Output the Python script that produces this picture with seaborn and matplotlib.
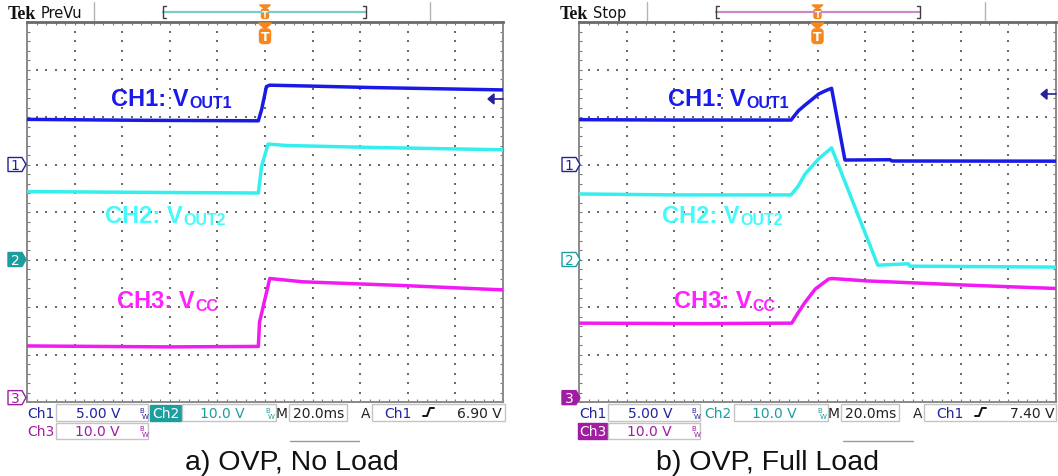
import numpy as np
import pandas as pd
import matplotlib
matplotlib.use("Agg")
import matplotlib.pyplot as plt
import seaborn as sns
from matplotlib.patches import Polygon, Rectangle, FancyBboxPatch
from matplotlib.ticker import MultipleLocator

# ------------------------------------------------------------------ data
# time in ms relative to trigger (20 ms/div, 10 div); voltages in V
CH_SCALE = [5.0, 10.0, 10.0]      # V/div for CH1, CH2, CH3
CH_GROUND = [5.0, 3.0, 0.05]      # ground marker position (div from bottom)

# a) OVP, No Load
a_ch1_t = [-100, -50, -2.8, -1.4, 0.6, 2.0, 20, 45, 100]
a_ch1_v = [4.75, 4.65, 4.6, 5.8, 8.2, 8.35, 8.25, 8.1, 7.85]
a_ch2_t = [-100, -40, -2.8, -1.4, 1.3, 9, 44, 100]
a_ch2_v = [14.3, 14.1, 14.0, 19.7, 24.3, 24.0, 23.6, 23.1]
a_ch3_t = [-100, -40, -2.8, -2.3, 2.0, 16, 59, 100]
a_ch3_v = [11.3, 11.1, 11.2, 16.3, 25.5, 24.8, 24.0, 23.1]

# b) OVP, Full Load
b_ch1_t = [-100, -60, -11.1, -8.0, -5.2, 0.5, 3.4, 5.9, 11.5, 30.5, 31.2, 100]
b_ch1_v = [4.72, 4.68, 4.68, 5.66, 6.26, 7.42, 7.77, 8.02, 0.47, 0.5, 0.37, 0.35]
b_ch2_t = [-100, -60, -11.1, -8.0, -5.2, 0.5, 5.9, 25.3, 38.0, 38.8, 100]
b_ch2_v = [13.8, 13.6, 13.6, 15.5, 18.0, 21.2, 23.5, -1.2, -0.9, -1.4, -1.6]
b_ch3_t = [-100, -50, -10.8, -8.0, -5.2, -0.9, 4.7, 6.1, 20.3, 62.8, 100]
b_ch3_v = [16.1, 16.0, 16.1, 18.4, 20.5, 23.3, 25.4, 25.5, 25.0, 24.1, 23.4]

scale_labels = ["5.00 V", "10.0 V", "10.0 V"]
timebase_label = "20.0ms"
trig_levels_v = [6.90, 7.40]
trig_labels = ["6.90 V", "7.40 V"]
status_labels = ["PreVu", "Stop"]
captions = ["a) OVP, No Load", "b) OVP, Full Load"]
trace_names = [("CH1: V", "OUT1"), ("CH2: V", "OUT2"), ("CH3: V", "CC")]

# ------------------------------------------------------------------ style
sns.set_theme(style="white")
plt.rcParams["font.family"] = ["Liberation Sans", "DejaVu Sans"]

TR_COL = ["#1a1ae6", "#35eeee", "#f21af2"]
LBL_COL = ["#1a1aee", "#45fafa", "#ff22ff"]
NAVY, TEAL, PURP = "#22229a", "#1c9e9e", "#a01ca0"
ORANGE = "#f7861c"

W, H = 1058, 477
fig = plt.figure(figsize=(W / 100, H / 100), dpi=100)
fig.patch.set_facecolor("white")


def px_axes(x0, y0, x1, y1, **kw):
    return fig.add_axes([x0 / W, 1 - y1 / H, (x1 - x0) / W, (y1 - y0) / H], **kw)


panels = [
    dict(x0=27, x1=503, data=[(a_ch1_t, a_ch1_v), (a_ch2_t, a_ch2_v), (a_ch3_t, a_ch3_v)]),
    dict(x0=579, x1=1056, data=[(b_ch1_t, b_ch1_v), (b_ch2_t, b_ch2_v), (b_ch3_t, b_ch3_v)]),
]
Y0, Y1 = 23, 403

for p in panels:
    ax = px_axes(p["x0"], Y0, p["x1"], Y1)
    ax.set_facecolor("white")
    # dotted graticule
    gx = np.arange(-80, 81, 20)
    gy = np.arange(1, 8)
    fx = np.arange(-100, 100.01, 4)
    fy = np.arange(0, 8.001, 0.2)
    xs = np.concatenate([np.repeat(gx, len(fy)), np.tile(fx, len(gy))])
    ys = np.concatenate([np.tile(fy, len(gx)), np.repeat(gy, len(fx))])
    ax.scatter(xs, ys, s=1.3, c="#6a6a6a", marker="s", linewidths=0, zorder=1)
    for i, (t, v) in enumerate(p["data"]):
        df = pd.DataFrame({"t": t, "div": np.array(v) / CH_SCALE[i] + CH_GROUND[i]})
        sns.lineplot(data=df, x="t", y="div", ax=ax, color=TR_COL[i], lw=2.5,
                     estimator=None, sort=False, zorder=3)
    ax.set(xlim=(-100, 100), ylim=(0, 8), xlabel="", ylabel="")
    ax.xaxis.set_major_locator(MultipleLocator(20))
    ax.xaxis.set_minor_locator(MultipleLocator(4))
    ax.yaxis.set_major_locator(MultipleLocator(1))
    ax.yaxis.set_minor_locator(MultipleLocator(0.2))
    ax.tick_params(which="both", direction="in", top=True, right=True, bottom=True,
                   left=True, labelbottom=False, labelleft=False, color="#7a7a7a",
                   length=2.3, width=0.8)
    for s in ax.spines.values():
        s.set_color("#8a8a8a")
        s.set_linewidth(1.4)
    ax.spines["top"].set_color("#6a6a6a")
    ax.spines["top"].set_linewidth(2.0)

# ------------------------------------------------------------------ overlay
ov = px_axes(0, 0, W, H, zorder=10)
ov.set_xlim(0, W)
ov.set_ylim(H, 0)
ov.axis("off")
ov.patch.set_alpha(0)
renderer = fig.canvas.get_renderer()


def div_to_px(d):
    return Y1 - d * (Y1 - Y0) / 8


def chan_marker(x0, yc, num, color, filled):
    w, h = 14, 14
    pts = [(x0, yc - h / 2), (x0 + w, yc - h / 2), (x0 + w + 4, yc),
           (x0 + w, yc + h / 2), (x0, yc + h / 2)]
    ov.add_patch(Polygon(pts, closed=True, fc=color if filled else "white",
                         ec=color, lw=1))
    ov.text(x0 + w / 2, yc + 0.5, num, color="white" if filled else color,
            ha="center", va="center", fontsize=10, family="DejaVu Sans")


def trace_label(x, yb, main, sub, color, sub_drop):
    t = ov.text(x, yb, main, fontsize=17, fontweight="bold", color=color,
                va="baseline", ha="left")
    bb = t.get_window_extent(renderer=renderer)
    xe = ov.transData.inverted().transform((bb.x1, 0))[0]
    ov.text(xe + 1, yb + sub_drop, sub, fontsize=11.5, fontweight="bold",
            color=color, va="baseline", ha="left")


def box(x0, y0, x1, y1, fc="white", ec="#c4c4c4"):
    ov.add_patch(Rectangle((x0, y0), x1 - x0, y1 - y0, fc=fc, ec=ec, lw=1))


def rtext(x, y, s, color, ha="center", size=10):
    ov.text(x, y, s, color=color, ha=ha, va="baseline", fontsize=size,
            family="DejaVu Sans")


def bw(x, y, color):
    ov.text(x, y, "B", color=color, fontsize=5, family="DejaVu Sans", va="baseline")
    ov.text(x + 2.5, y + 6, "W", color=color, fontsize=5, family="DejaVu Sans", va="baseline")


def trig_marker(xc):
    # small marker in the top bar
    ov.add_patch(Polygon([(xc - 5.5, 6), (xc + 5.5, 6), (xc, 10)], fc=ORANGE, ec=ORANGE))
    ov.add_patch(FancyBboxPatch((xc - 3.5, 10), 7, 9.5, boxstyle="round,pad=0,rounding_size=2",
                                fc=ORANGE, ec=ORANGE))
    ov.text(xc, 15.5, "T", color="white", ha="center", va="center", fontsize=6,
            fontweight="bold", family="DejaVu Sans")
    # big marker below the graticule top
    ov.add_patch(Polygon([(xc - 6.5, 24), (xc + 6.5, 24), (xc, 30)], fc=ORANGE, ec=ORANGE))
    ov.add_patch(FancyBboxPatch((xc - 5.5, 30), 11, 14.5, boxstyle="round,pad=0,rounding_size=3",
                                fc=ORANGE, ec=ORANGE))
    ov.text(xc, 37.5, "T", color="white", ha="center", va="center", fontsize=9,
            fontweight="bold", family="DejaVu Sans")


cfg = [
    dict(dx=0, x0=27, x1=503, seps=(94, 430), br=(163, 366), brc="#7fcaca",
         ch2_filled=True, ch3_filled=False, lbl=[(111, 106), (105, 223), (117, 308)],
         capx=291.5, over=(290, 359)),
    dict(dx=552, x0=579, x1=1056, seps=(647, 985), br=(716, 920), brc="#c98ac9",
         ch2_filled=False, ch3_filled=True, lbl=[(668, 106), (662, 223), (674, 308)],
         capx=767, over=(843, 913)),
]

for k, c in enumerate(cfg):
    dx = c["dx"]
    xc = (c["x0"] + c["x1"]) / 2
    # top bar
    ov.text(8 + dx, 19, "Tek", fontsize=13, fontweight="bold",
            family="Liberation Serif", va="baseline", color="#111111")
    ov.text(41 + dx, 18, status_labels[k], fontsize=10.5, family="DejaVu Sans",
            va="baseline", color="#111111")
    for sx in c["seps"]:
        ov.plot([sx, sx], [3, 21], color="#b4b4b4", lw=1)
    b0, b1 = c["br"]
    ov.plot([b0, b1], [12.7, 12.7], color=c["brc"], lw=1.6)
    ov.plot([b0 + 3, b0, b0, b0 + 3], [7, 7, 19, 19], color="#404040", lw=1)
    ov.plot([b1 - 3, b1, b1, b1 - 3], [7, 7, 19, 19], color="#404040", lw=1)
    trig_marker(xc)
    # trigger level arrow at right edge
    ty = div_to_px(CH_GROUND[0] + trig_levels_v[k] / CH_SCALE[0])
    ax1 = c["x1"]
    ov.add_patch(Polygon([(ax1 - 15, ty), (ax1 - 9, ty - 5), (ax1 - 9, ty + 5)],
                         fc=NAVY, ec=NAVY))
    ov.plot([ax1 - 9, ax1], [ty, ty], color=NAVY, lw=1.2)
    # channel ground markers
    mx = 8 + dx if k == 0 else 562
    chan_marker(mx, div_to_px(CH_GROUND[0]), "1", NAVY, False)
    chan_marker(mx, div_to_px(CH_GROUND[1]), "2", TEAL, c["ch2_filled"])
    chan_marker(mx, div_to_px(CH_GROUND[2]) - 2, "3", PURP, c["ch3_filled"])
    # trace labels
    for i, (main, sub) in enumerate(trace_names):
        lx, ly = c["lbl"][i]
        trace_label(lx, ly, main, sub, LBL_COL[i], 3.5 if sub == "CC" else 2.5)
    # readouts row 1
    rtext(27 + dx, 418, "Ch1", NAVY, ha="left")
    box(56 + dx, 405, 148 + dx, 422)
    rtext(98 + dx, 418, scale_labels[0], NAVY)
    bw(139 + dx, 413, NAVY)
    if c["ch2_filled"]:
        box(150 + dx, 406, 181 + dx, 422, fc=TEAL, ec=TEAL)
        rtext(165.5 + dx, 418, "Ch2", "white")
    else:
        rtext(165.5 + dx, 418, "Ch2", TEAL)
    box(182 + dx, 405, 276 + dx, 422)
    rtext(222 + dx, 418, scale_labels[1], TEAL)
    bw(265 + dx, 413, TEAL)
    rtext(281.5 + dx, 418, "M", "#222222")
    box(289 + dx, 405, 347 + dx, 422)
    rtext(318.5 + dx, 418, timebase_label, "#222222")
    rtext(365.5 + dx, 418, "A", "#222222")
    box(372 + dx, 405, min(505 + dx, 1056), 422)
    rtext(398 + dx, 418, "Ch1", NAVY)
    ov.plot(np.array([423, 427, 430, 434]) + dx, [417, 417, 409, 409], color="#111111", lw=1.4)
    rtext(min(502 + dx, 1054), 418, trig_labels[k], "#222222", ha="right")
    # readouts row 2
    if c["ch3_filled"]:
        box(26 + dx, 424, 55 + dx, 440, fc=PURP, ec=PURP)
        rtext(40.5 + dx, 436, "Ch3", "white")
    else:
        rtext(27 + dx, 436, "Ch3", PURP, ha="left")
    box(56 + dx, 424, 148 + dx, 440)
    rtext(97 + dx, 436, scale_labels[2], PURP)
    bw(139 + dx, 431, PURP)
    # caption
    o0, o1 = c["over"]
    ov.plot([o0, o1], [441.7, 441.7], color="#9a9a9a", lw=1)
    ov.text(c["capx"], 470, captions[k], fontsize=20.5, ha="center", va="baseline",
            color="#111111", family="Liberation Sans")

fig.savefig("out.png", dpi=100)
